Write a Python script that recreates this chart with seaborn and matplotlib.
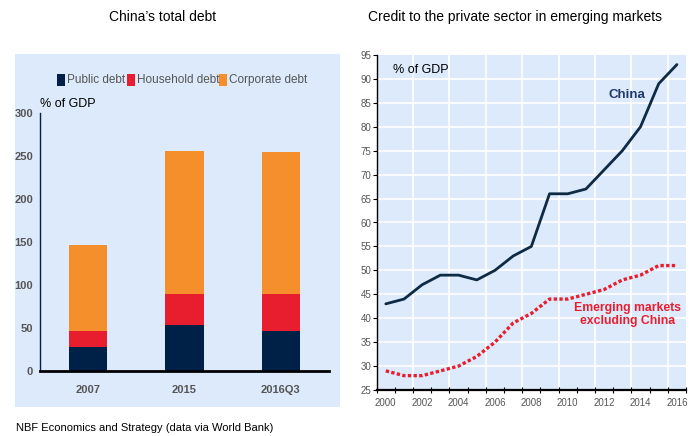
import numpy as np
import pandas as pd
import seaborn as sns
import matplotlib
matplotlib.use("Agg")
import matplotlib.pyplot as plt
from matplotlib.patches import Rectangle

# --- data -------------------------------------------------------------
debt_periods = ["2007", "2015", "2016Q3"]
public_debt = [28, 53, 46]
household_debt = [19, 37, 43]
corporate_debt = [99, 166, 166]

credit_years = list(range(2000, 2017))
china_credit = [43, 44, 47, 49, 49, 48, 50, 53, 55, 66, 66, 67, 71, 75, 80, 89, 93]
em_ex_china_credit = [29, 28, 28, 29, 30, 32, 35, 39, 41, 44, 44, 45, 46, 48, 49, 51, 51]

# --- style ------------------------------------------------------------
sns.set_theme(style="white")
plt.rcParams["font.family"] = ["Liberation Sans", "DejaVu Sans"]

PANEL_BG = "#DDEAFB"
NAVY = "#002147"
RED = "#E81E2F"
ORANGE = "#F58F2C"
LINE_NAVY = "#0E2A45"
TICK_GREY = "#555555"

fig = plt.figure(figsize=(6.91, 4.36), dpi=100)
W, H = 691, 436


def fig_rect(x0, y0, x1, y1):
    """pixel box (top-left origin) -> figure fraction [l, b, w, h]"""
    return [x0 / W, 1 - y1 / H, (x1 - x0) / W, (y1 - y0) / H]


# shaded backdrop of the left panel
l, b, w, h = fig_rect(15, 54, 340, 407)
fig.patches.append(Rectangle((l, b), w, h, transform=fig.transFigure,
                             facecolor=PANEL_BG, edgecolor="none", zorder=-10))

# --- left: stacked debt bars -----------------------------------------
ax1 = fig.add_axes(fig_rect(40, 113, 329, 371))
ax1.set_facecolor("none")

df = pd.DataFrame({
    "period": debt_periods,
    "public": public_debt,
    "household": household_debt,
    "corporate": corporate_debt,
})
df["pub_house"] = df["public"] + df["household"]
df["total"] = df["pub_house"] + df["corporate"]

for col, colr in [("total", ORANGE), ("pub_house", RED), ("public", NAVY)]:
    sns.barplot(data=df, x="period", y=col, color=colr, width=0.4,
                saturation=1, ax=ax1, edgecolor="none")

ax1.set_xlim(-0.5, 2.5)
ax1.set_ylim(0, 300)
ax1.set_yticks(range(0, 301, 50))
ax1.set_xlabel("")
ax1.set_ylabel("")
for s in ["top", "right"]:
    ax1.spines[s].set_visible(False)
ax1.spines["left"].set_color(NAVY)
ax1.spines["left"].set_linewidth(1.0)
ax1.spines["bottom"].set_color("black")
ax1.spines["bottom"].set_linewidth(2.0)
ax1.tick_params(axis="y", length=0, pad=5)
ax1.tick_params(axis="x", length=0, pad=10)
for t in ax1.get_yticklabels() + ax1.get_xticklabels():
    t.set_fontsize(8)
    t.set_color(TICK_GREY)
    t.set_fontweight("bold")
ax1.text(0.0, 1.01, "% of GDP", transform=ax1.transAxes, fontsize=9,
         color="black", ha="left", va="bottom")

# legend: a row of coloured squares, each followed by its label
legend_items = [("Public debt", NAVY, 57), ("Household debt", RED, 127), ("Corporate debt", ORANGE, 219)]
for label, colr, px in legend_items:
    sl, sb, sw, sh = fig_rect(px, 74, px + 8, 86)
    fig.patches.append(Rectangle((sl, sb), sw, sh, transform=fig.transFigure,
                                 facecolor=colr, edgecolor="none", zorder=1))
    fig.text((px + 10) / W, 1 - 80 / H, label, color=TICK_GREY, fontsize=8.5,
             ha="left", va="center")

fig.text(163 / W, 1 - 17 / H, "China\u2019s total debt", ha="center", va="center",
         fontsize=10, color="black")

# --- right: private-sector credit lines --------------------------------
ax2 = fig.add_axes(fig_rect(376.7, 55, 686, 390))
ax2.set_facecolor(PANEL_BG)

mid_year = np.array(credit_years) + 0.5
cdf = pd.DataFrame({"year": mid_year, "china": china_credit, "em": em_ex_china_credit})
sns.lineplot(data=cdf, x="year", y="china", color=LINE_NAVY, linewidth=2.0, ax=ax2)
sns.lineplot(data=cdf, x="year", y="em", color=RED, linewidth=2.4, ax=ax2,
             linestyle=(0, (1.0, 0.7)))

ax2.set_xlim(2000, 2017)
ax2.set_ylim(25, 95)
ax2.set_yticks(range(25, 96, 5))
ax2.set_xticks(range(2000, 2018))
ax2.set_xticklabels([])
ax2.set_xticks([y + 0.5 for y in range(2000, 2017, 2)], minor=True)
ax2.set_xticklabels([str(y) for y in range(2000, 2017, 2)], minor=True)
ax2.set_xlabel("")
ax2.set_ylabel("")

for yv in range(30, 95, 5):
    ax2.axhline(yv, color="white", linewidth=1.2, zorder=0.5)
for xv in range(2002, 2017, 2):
    ax2.axvline(xv, color="white", linewidth=1.2, zorder=0.5)

for s in ["top", "right"]:
    ax2.spines[s].set_visible(False)
ax2.spines["left"].set_color("black")
ax2.spines["left"].set_linewidth(1.0)
ax2.spines["bottom"].set_color("black")
ax2.spines["bottom"].set_linewidth(1.6)
ax2.tick_params(axis="y", which="major", direction="out", length=3, width=0.8,
                color="black", left=True, pad=1)
ax2.tick_params(axis="x", which="major", direction="inout", length=5, width=0.8,
                color="black", bottom=True)
ax2.tick_params(axis="x", which="minor", length=0, pad=6, bottom=True)
for t in ax2.get_yticklabels() + ax2.get_xticklabels(minor=True):
    t.set_fontsize(7)
    t.set_color(TICK_GREY)

ax2.text(0.052, 0.955, "% of GDP", transform=ax2.transAxes, fontsize=9,
         color="black", ha="left", va="center")
ax2.text(2013.75, 86.6, "China", color="#1F3A6B", fontsize=9.5, fontweight="bold",
         ha="center", va="center")
ax2.text(2013.8, 40.7, "Emerging markets\nexcluding China", color=RED, fontsize=8.8,
         fontweight="bold", ha="center", va="center", linespacing=1.1)

fig.text(515 / W, 1 - 17 / H, "Credit to the private sector in emerging markets",
         ha="center", va="center", fontsize=10, color="black")

fig.text(16 / W, 1 - 428 / H, "NBF Economics and Strategy (data via World Bank)",
         ha="left", va="center", fontsize=8, color="black")

fig.savefig("out.png", dpi=100, facecolor="white")
